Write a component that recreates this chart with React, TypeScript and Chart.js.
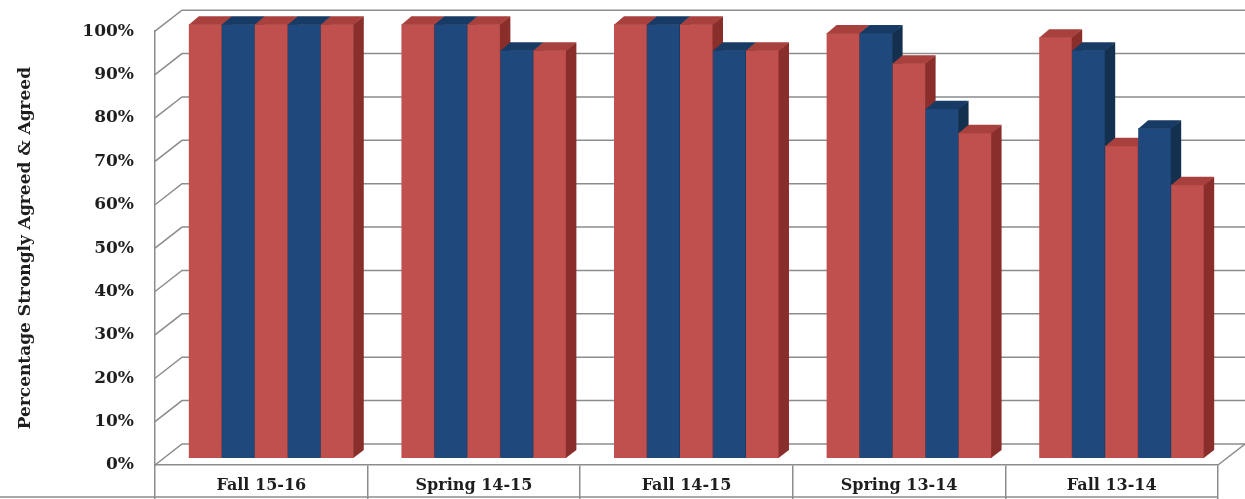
import React, { useEffect, useRef } from 'react';
import { Chart, registerables } from 'chart.js';

Chart.register(...registerables);

// ---- data ----
const categories = ['Fall 15-16', 'Spring 14-15', 'Fall 14-15', 'Spring 13-14', 'Fall 13-14'];
const seriesNames = ['Item 1', 'Item 2', 'Item 3', 'Item 4', 'Item 5'];
const item1 = [100, 100, 100, 98, 97];
const item2 = [100, 100, 100, 98, 94];
const item3 = [100, 100, 100, 91, 72];
const item4 = [100, 94, 94, 80.5, 76];
const item5 = [100, 94, 94, 75, 63];
const seriesValues = [item1, item2, item3, item4, item5];
const yAxisTitle = 'Percentage Strongly Agreed & Agreed';

// ---- styles ----
const frontColors = ['#C0504D', '#1F497D', '#C0504D', '#1F497D', '#C0504D'];
const sideColors = ['#8A2E2B', '#13304F', '#8A2E2B', '#13304F', '#8A2E2B'];
const topColors = ['#A8413E', '#183B66', '#A8413E', '#183B66', '#A8413E'];
const GRID = '#8c8c8c';
const TEXT = '#1e1e1e';
const FONT = 'DejaVu Serif';

const WALL_DX = 27;
const WALL_DY = -21;
const BAR_DX = 10;
const BAR_DY = -7;
const DEPTH_DX = 10;
const DEPTH_DY = -8;

const threeD = {
  id: 'threeD',
  beforeDatasetsDraw(chart: any) {
    const { ctx, chartArea } = chart;
    const ys = chart.scales.y;
    const xs = chart.scales.x;
    ctx.save();
    ctx.strokeStyle = GRID;
    ctx.lineWidth = 1.5;
    // side wall + back wall grid
    ys.ticks.forEach((t: any) => {
      const py = ys.getPixelForValue(t.value);
      ctx.beginPath();
      ctx.moveTo(chartArea.left, py);
      ctx.lineTo(chartArea.left + WALL_DX, py + WALL_DY);
      ctx.lineTo(chartArea.right + WALL_DX, py + WALL_DY);
      ctx.stroke();
    });
    // floor right edge
    const y0 = ys.getPixelForValue(0);
    ctx.beginPath();
    ctx.moveTo(chartArea.right, y0);
    ctx.lineTo(chartArea.right + WALL_DX, y0 + WALL_DY);
    ctx.stroke();
    // bottom line of label row
    ctx.beginPath();
    ctx.moveTo(0, xs.bottom - 2);
    ctx.lineTo(chartArea.right, xs.bottom - 2);
    ctx.stroke();
    ctx.restore();

    const metas = chart
      .getSortedVisibleDatasetMetas()
      .slice()
      .sort((a: any, b: any) => a.index - b.index);
    for (let j = 0; j < categories.length; j++) {
      for (const meta of metas) {
        const el = meta.data[j];
        if (!el) continue;
        const { x, y, base, width } = el.getProps(['x', 'y', 'base', 'width'], true);
        const l = x - width / 2;
        const r = x + width / 2;
        const t = Math.min(y, base);
        const b = Math.max(y, base);
        ctx.save();
        ctx.translate(BAR_DX, BAR_DY);
        el.draw(ctx);
        ctx.fillStyle = sideColors[meta.index];
        ctx.beginPath();
        ctx.moveTo(r - 0.5, t);
        ctx.lineTo(r + DEPTH_DX, t + DEPTH_DY);
        ctx.lineTo(r + DEPTH_DX, b + DEPTH_DY);
        ctx.lineTo(r - 0.5, b);
        ctx.closePath();
        ctx.fill();
        ctx.fillStyle = topColors[meta.index];
        ctx.beginPath();
        ctx.moveTo(l, t + 0.5);
        ctx.lineTo(l + DEPTH_DX, t + DEPTH_DY);
        ctx.lineTo(r + DEPTH_DX, t + DEPTH_DY);
        ctx.lineTo(r, t + 0.5);
        ctx.closePath();
        ctx.fill();
        ctx.restore();
      }
    }
    return false;
  },
};

export default function App() {
  const canvasRef = useRef<HTMLCanvasElement | null>(null);

  useEffect(() => {
    if (!canvasRef.current) return;
    const chart = new Chart(canvasRef.current, {
      type: 'bar',
      data: {
        labels: categories,
        datasets: seriesValues.map((vals, i) => ({
          label: seriesNames[i],
          data: vals,
          backgroundColor: frontColors[i],
          borderWidth: 0,
          barPercentage: 1,
          categoryPercentage: 0.776,
        })),
      },
      options: {
        animation: false,
        responsive: false,
        maintainAspectRatio: false,
        layout: { padding: { top: 31, right: 27, left: 0, bottom: 0 } },
        plugins: {
          legend: { display: false },
          tooltip: { enabled: false },
        },
        scales: {
          x: {
            offset: true,
            afterFit: (scale: any) => {
              scale.height = 34;
            },
            grid: {
              display: true,
              offset: true,
              drawOnChartArea: false,
              drawTicks: true,
              tickLength: 34,
              color: GRID,
              lineWidth: 1.5,
            },
            border: { display: true, color: GRID, width: 1.5 },
            ticks: {
              padding: -23,
              color: TEXT,
              font: { family: FONT, weight: 'bold', size: 16 },
              maxRotation: 0,
            },
          },
          y: {
            min: 0,
            max: 100,
            afterFit: (scale: any) => {
              scale.width = 155;
            },
            grid: { display: false, drawTicks: false },
            border: { display: true, color: GRID, width: 1.5 },
            ticks: {
              stepSize: 10,
              padding: 21,
              color: TEXT,
              font: { family: FONT, weight: 'bold', size: 17 },
              callback: (v: any) => v + '%',
            },
            title: {
              display: true,
              text: yAxisTitle,
              color: TEXT,
              padding: { top: 15, bottom: 0 },
              font: { family: FONT, weight: 'bold', size: 17 },
            },
          },
        },
      },
      plugins: [threeD],
    });
    return () => chart.destroy();
  }, []);

  return (
    <div style={{ position: 'fixed', left: 0, top: 0, width: 1245, height: 499, background: '#fff' }}>
      <canvas ref={canvasRef} width={1245} height={499} />
    </div>
  );
}
